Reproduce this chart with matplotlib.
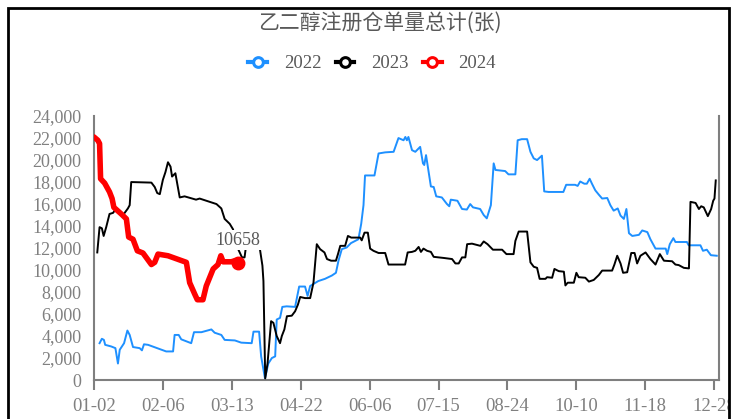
import matplotlib
matplotlib.use("Agg")
import matplotlib.pyplot as plt
from matplotlib.lines import Line2D
from matplotlib.patches import Rectangle
from matplotlib.ticker import FuncFormatter

plt.rcParams['font.family'] = ['Liberation Serif', 'Noto Sans CJK SC', 'DejaVu Sans']

# trading-day index (category axis) and registered warrant counts
day22 = [2.2, 3.1, 3.9, 4.4, 6.8, 8.4, 9.4, 10.1, 11.8, 13.1, 14.0, 15.3, 17.9, 18.8, 19.6, 21.2,
         28.3, 31.0, 31.6, 33.2, 34.2, 38.1, 39.2, 42.1, 46.0, 47.3, 49.9, 51.2, 55.2, 57.7, 61.8,
         62.5, 64.7, 65.5, 67.0, 68.3, 69.7, 71.0, 71.6, 72.9, 73.8, 75.5, 78.8, 80.4, 82.7, 83.7,
         84.7, 87.9, 90.5, 93.2, 94.8, 95.8, 97.1, 99.0, 100.7, 103.6, 104.7, 105.6, 106.2, 109.9,
         111.5, 114.1, 117.4, 119.3, 121.3, 122.0, 122.6, 123.2, 124.6, 125.9, 127.8, 128.9, 129.4,
         130.1, 132.0, 133.1, 134.1, 136.3, 138.3, 139.2, 139.8, 142.4, 144.2, 146.1, 147.4, 148.5,
         151.3, 152.7, 153.9, 155.5, 156.6, 157.3, 161.1, 162.4, 165.1, 166.0, 167.6, 169.7, 171.0,
         172.3, 173.6, 175.5, 176.4, 178.1, 183.9, 185.0, 188.5, 189.5, 190.5, 192.1, 193.1, 194.2,
         195.1, 196.4, 197.8, 199.1, 201.1, 202.3, 203.6, 205.2, 206.3, 207.6, 208.6, 209.6, 210.9,
         213.5, 214.8, 216.8, 218.0, 220.0, 224.0, 224.6, 225.6, 227.0, 227.8, 232.3, 233.0, 237.6,
         238.6, 240.1, 241.7, 244.0]
val22 = [3350, 3750, 3650, 3200, 3050, 2900, 1500, 2750, 3350, 4500, 4100, 3000, 2900, 2700, 3250, 3200,
         2600, 2600, 4100, 4100, 3700, 3350, 4350, 4350, 4600, 4300, 4100, 3650, 3600, 3400, 3350,
         4400, 4400, 2150, 150, 1500, 2000, 2150, 5500, 5650, 6650, 6700, 6650, 8500, 8500, 7650,
         8550, 9000, 9200, 9500, 9750, 10850, 11900, 12050, 12450, 12800, 14200, 15900, 18600, 18600,
         20600, 20700, 20750, 22000, 21800, 22100, 21800, 22100, 20900, 20750, 21200, 19700, 19550,
         20450, 17600, 17550, 16700, 16600, 16000, 15800, 16400, 16300, 15550, 15500, 16000, 15700,
         15550, 15000, 14700, 15900, 19700, 19100, 19000, 18700, 18700, 21800, 21900, 21900, 20750,
         20150, 20000, 20400, 17150, 17100, 17100, 17750, 17750, 17650, 18050, 17850, 17850, 18300,
         17850, 17250, 16850, 16500, 16550, 15900, 15400, 15600, 14950, 14650, 15550, 13350, 13100,
         13200, 13600, 13450, 12800, 11950, 11950, 11450, 12350, 12900, 12550, 12550, 12250, 12250,
         11750, 11850, 11350, 11300]

day23 = [1.3, 2.2, 3.1, 3.8, 4.8, 6.1, 7.5, 8.7, 11.4, 13.3, 14.0, 14.6, 22.5, 23.8, 24.8, 25.8, 27.0,
         28.0, 29.0, 30.0, 30.6, 31.9, 33.6, 35.5, 40.0, 41.4, 44.0, 48.0, 49.9, 51.2, 53.2, 54.5,
         55.2, 56.5, 58.0, 59.0, 59.7, 64.7, 66.0, 66.4, 67.1, 68.0, 69.4, 70.3, 71.6, 72.9, 73.6,
         74.6, 75.6, 77.5, 78.8, 79.9, 80.8, 82.7, 84.7, 86.0, 87.3, 88.6, 90.3, 91.3, 92.9, 94.8,
         95.6, 96.5, 98.4, 99.5, 100.8, 104.3, 104.9, 106.0, 107.3, 108.2, 109.5, 111.5, 114.1, 115.4,
         121.9, 122.9, 124.6, 125.9, 127.2, 128.1, 129.1, 130.5, 132.0, 133.1, 137.0, 140.3, 141.6,
         142.9, 144.2, 145.5, 146.2, 148.1, 151.4, 152.7, 154.2, 156.3, 159.9, 161.6, 164.4, 165.1,
         166.4, 169.7, 171.0, 172.3, 173.6, 174.6, 176.9, 177.5, 179.5, 180.4, 182.1, 184.1, 184.7,
         185.6, 188.0, 189.0, 189.9, 192.5, 193.9, 195.8, 197.8, 199.1, 203.0, 203.9, 205.0, 206.3,
         207.3, 208.9, 210.5, 211.8, 212.8, 214.1, 216.1, 218.0, 220.0, 221.7, 223.3, 226.5, 227.8,
         229.1, 231.1, 233.1, 233.7, 235.7, 237.0, 237.9, 238.9, 240.5, 241.8, 242.6, 243.1, 243.6]
val23 = [11600, 13900, 13800, 13100, 13900, 15100, 15200, 15600, 15000, 15600, 15900, 18000, 17950, 17550,
         17000, 16900, 18200, 18900, 19800, 19400, 18500, 18800, 16600, 16700, 16400, 16500, 16300,
         16000, 15600, 14650, 14200, 13700, 12350, 11900, 11150, 11150, 12400, 12400, 10400, 9000,
         150, 1500, 5350, 5200, 4000, 3350, 4000, 4600, 5800, 5850, 6250, 6850, 7550, 7450, 7450,
         8850, 12350, 11900, 11600, 11000, 10850, 10850, 11450, 12200, 12200, 13100, 12950, 12950,
         12700, 13400, 13400, 11950, 11750, 11550, 11550, 10500, 10500, 11600, 11650, 11750, 12100,
         11650, 11950, 11750, 11650, 11200, 11100, 11000, 10600, 10600, 11150, 11150, 12350, 12400,
         12200, 12600, 12350, 11850, 11850, 11450, 11450, 12650, 13500, 13500, 10700, 10300, 10200,
         9200, 9200, 9350, 9300, 10100, 9900, 9850, 8600, 8850, 8850, 9750, 9350, 9300, 8950, 9100,
         9550, 9950, 9950, 10500, 11300, 10600, 9750, 9800, 11550, 11550, 10600, 11300, 11600, 11000,
         10500, 11450, 10850, 10800, 10500, 10450, 10200, 10150, 16200, 16100, 15550, 15800, 15700,
         14900, 15550, 16300, 16500, 18150]

day24 = [0, 1.5, 2.2, 2.6, 4.2, 6.1, 7.1, 7.8, 10.7, 12.7, 13.6, 15.3, 17.0, 19.2, 22.5, 23.8, 25.1,
         29.0, 36.2, 37.5, 39.5, 40.5, 42.7, 44.0, 46.7, 48.6, 49.7, 50.6, 53.8, 55.2, 56.5]
val24 = [22100, 21800, 21500, 18300, 17900, 17100, 16500, 15700, 15100, 14650, 13000, 12800, 11750,
         11550, 10500, 10700, 11450, 11300, 10700, 8850, 7800, 7300, 7300, 8550, 10100, 10500, 11300,
         10750, 10750, 10850, 10658]

tick_days = [0, 27, 54, 81, 108, 135, 162, 189, 216, 243]
tick_labels = ['01-02', '02-06', '03-13', '04-22', '06-06', '07-15', '08-24', '10-10', '11-18', '12-28']
years = ['2022', '2023', '2024']
colors = ['#1E90FF', '#000000', '#FF0000']

fig = plt.figure(figsize=(7.34, 4.19), dpi=100)
ax = fig.add_axes([0.128, 0.093, 0.852, 0.630])

ax.plot(day22, val22, color=colors[0], lw=1.4, zorder=2)
ax.plot(day23, val23, color=colors[1], lw=1.4, zorder=3)
ax.plot(day24, val24, color=colors[2], lw=4, solid_capstyle='round', solid_joinstyle='round', zorder=4)
ax.plot(day24[-1], val24[-1], 'o', color=colors[2], ms=9, zorder=5)
ax.annotate(str(val24[-1]), (day24[-1], val24[-1]), xytext=(0, 10), textcoords='offset points',
            ha='center', va='bottom', fontsize=13, color='#595959',
            bbox=dict(facecolor='white', edgecolor='none', pad=1), zorder=6)

ax.set_xlim(0, 245)
ax.set_ylim(0, 24000)
ax.set_yticks(range(0, 24001, 2000))
ax.yaxis.set_major_formatter(FuncFormatter(lambda v, p: f'{int(v):,}'))
ax.set_xticks(tick_days)
ax.set_xticklabels(tick_labels)
ax.tick_params(axis='y', length=0, pad=9, labelsize=13, labelcolor='#808080')
ax.tick_params(axis='x', length=7, width=1.5, color='#7f7f7f', pad=6, labelsize=13.5, labelcolor='#808080')
for s in ['left', 'bottom', 'right']:
    ax.spines[s].set_color('#7f7f7f')
    ax.spines[s].set_linewidth(1.5)
ax.spines['top'].set_visible(False)

fig.text(0.517, 0.945, '乙二醇注册仓单量总计(张)', ha='center', va='center', fontsize=15,
         color='#595959', family=['Noto Sans CJK SC', 'DejaVu Sans'])

handles = [Line2D([], [], color=c, lw=3, marker='o', ms=7, mfc='white', mew=2.2) for c in colors]
fig.legend(handles, years, loc='center', bbox_to_anchor=(0.507, 0.848), ncol=3, frameon=False,
           fontsize=13.5, labelcolor='#595959', handlelength=1.0, handletextpad=0.9, columnspacing=0.75)

fig.patches.append(Rectangle((729 / 734, 0), 1, 1, transform=fig.transFigure, facecolor='white',
                             edgecolor='none', zorder=10))
fig.patches.append(Rectangle((8 / 734, -0.1), 721 / 734, 1.1 - 8 / 419, transform=fig.transFigure,
                             fill=False, edgecolor='black', lw=2, zorder=11))

fig.savefig('out.png', dpi=100)
